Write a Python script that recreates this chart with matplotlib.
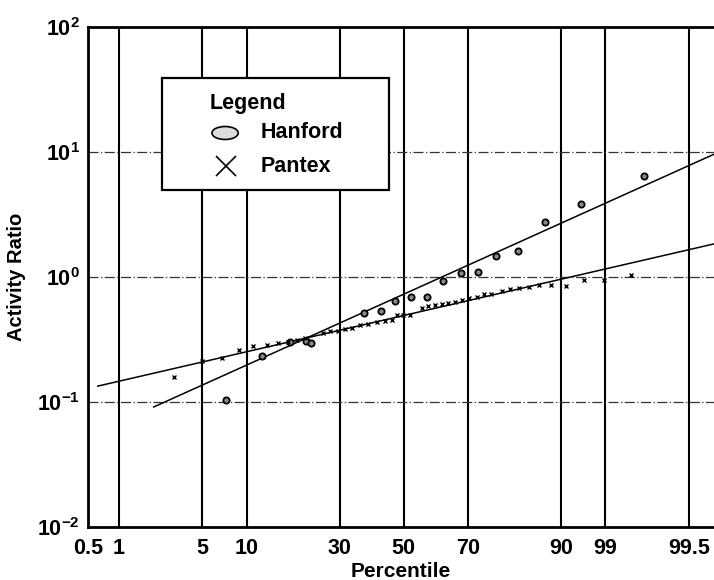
import matplotlib
matplotlib.use("Agg")
import matplotlib.pyplot as plt
from matplotlib.patches import Rectangle, Ellipse
from statistics import NormalDist
import numpy as np

plt.rcParams['font.family'] = ['Liberation Sans', 'DejaVu Sans']
plt.rcParams['mathtext.fontset'] = 'custom'
plt.rcParams['mathtext.bf'] = 'Liberation Sans:bold'
plt.rcParams['mathtext.rm'] = 'Liberation Sans:bold'

# Percentile positions of the probability grid and the labels printed on them
grid_percentiles = [0.5, 1, 5, 10, 30, 50, 70, 90, 95, 99]
tick_labels = ["0.5", "1", "5", "10", "30", "50", "70", "90", "99", "99.5"]

# Hanford data (normal score, activity ratio)
hanford_z = [-1.447, -1.154, -0.927, -0.797, -0.756, -0.325, -0.187, -0.073, 0.057,
             0.187, 0.317, 0.463, 0.602, 0.756, 0.935, 1.154, 1.447, 1.959]
hanford_ratio = [0.104, 0.233, 0.302, 0.308, 0.296, 0.515, 0.535, 0.643, 0.692,
                 0.692, 0.929, 1.076, 1.096, 1.47, 1.61, 2.75, 3.84, 6.43]

# Pantex data (normal score, activity ratio)
pantex_z = [-1.878, -1.650, -1.480, -1.341, -1.228, -1.114, -1.024, -0.943, -0.870,
            -0.805, -0.659, -0.602, -0.537, -0.480, -0.423, -0.358, -0.293, -0.220,
            -0.154, -0.098, -0.057, -0.008, 0.049, 0.146, 0.195, 0.252, 0.309, 0.358,
            0.415, 0.472, 0.528, 0.593, 0.650, 0.715, 0.797, 0.870, 0.943, 1.024,
            1.106, 1.203, 1.325, 1.472, 1.634, 1.854]
pantex_ratio = [0.158, 0.213, 0.225, 0.261, 0.281, 0.286, 0.296, 0.302, 0.313,
                0.325, 0.356, 0.370, 0.370, 0.384, 0.391, 0.413, 0.421, 0.437,
                0.445, 0.453, 0.497, 0.497, 0.497, 0.565, 0.586, 0.597, 0.608, 0.619,
                0.631, 0.655, 0.679, 0.692, 0.731, 0.731, 0.773, 0.802, 0.817, 0.832,
                0.863, 0.863, 0.847, 0.946, 0.946, 1.04]

# Fitted lognormal lines (end points)
hanford_fit_z = [-2.04, 2.53]
hanford_fit_ratio = [0.0912, 9.6]
pantex_fit_z = [-2.496, 2.53]
pantex_fit_ratio = [0.134, 1.84]

W, H = 714, 580
fig = plt.figure(figsize=(W / 100, H / 100), dpi=100)
ax = fig.add_axes([88 / W, 1 - 527 / H, (W - 88) / W, 500 / H])

nd = NormalDist()
grid_z = [nd.inv_cdf(p / 100) for p in grid_percentiles]

ax.set_yscale('log')
ax.set_ylim(1e-2, 1e2)
ax.set_xlim(grid_z[0], 2.53)

# grid
for gz in grid_z[1:]:
    ax.axvline(gz, color='black', lw=1.5, zorder=1)
for gy in [1e-1, 1e0, 1e1]:
    ax.axhline(gy, color='#333333', lw=0.9, ls=(0, (8, 2, 1, 2)), zorder=1)

ax.plot(hanford_fit_z, hanford_fit_ratio, color='black', lw=1.1, zorder=2)
ax.plot(pantex_fit_z, pantex_fit_ratio, color='black', lw=1.1, zorder=2)

ax.plot(hanford_z, hanford_ratio, ls='none', marker='o', ms=4.5, mfc='#888888',
        mec='black', mew=1.3, zorder=3)
ax.plot(pantex_z, pantex_ratio, ls='none', marker='x', ms=3.5, mec='black',
        mew=1.0, zorder=3)

ax.set_xticks(grid_z)
ax.set_xticklabels(tick_labels, fontsize=15.5, fontweight='bold')
yt = [1e-2, 1e-1, 1e0, 1e1, 1e2]
ax.set_yticks(yt)
ax.set_yticklabels([r'$\mathbf{10^{%d}}$' % int(np.log10(v)) for v in yt], fontsize=15.5)
ax.minorticks_off()
ax.tick_params(axis='both', length=0, pad=8)
ax.tick_params(axis='y', pad=6)

ax.set_xlabel('Percentile', fontsize=15, fontweight='bold', labelpad=2)
ax.set_ylabel('Activity Ratio', fontsize=14.5, fontweight='bold', labelpad=8)

for s in ['left', 'bottom', 'top']:
    ax.spines[s].set_linewidth(2)
ax.spines['right'].set_visible(False)

# Legend box (drawn by hand to match the original layout)
T = ax.transAxes
ax.add_patch(Rectangle((0.118, 0.674), 0.363, 0.224, transform=T, facecolor='white',
                       edgecolor='black', lw=1.6, zorder=5))
ax.text(0.195, 0.848, 'Legend', transform=T, fontsize=15.5, fontweight='bold',
        va='center', ha='left', zorder=6)
ax.add_patch(Ellipse((0.219, 0.788), 0.042, 0.026, transform=T, facecolor='#dddddd',
                     edgecolor='black', lw=1.2, zorder=6))
ax.text(0.275, 0.788, 'Hanford', transform=T, fontsize=15.5, fontweight='bold',
        va='center', ha='left', zorder=6)
ax.plot([0.221], [0.722], transform=T, ls='none', marker='x', ms=14, mec='black',
        mew=1.2, zorder=6)
ax.text(0.275, 0.722, 'Pantex', transform=T, fontsize=15.5, fontweight='bold',
        va='center', ha='left', zorder=6)

fig.savefig('out.png', dpi=100)
